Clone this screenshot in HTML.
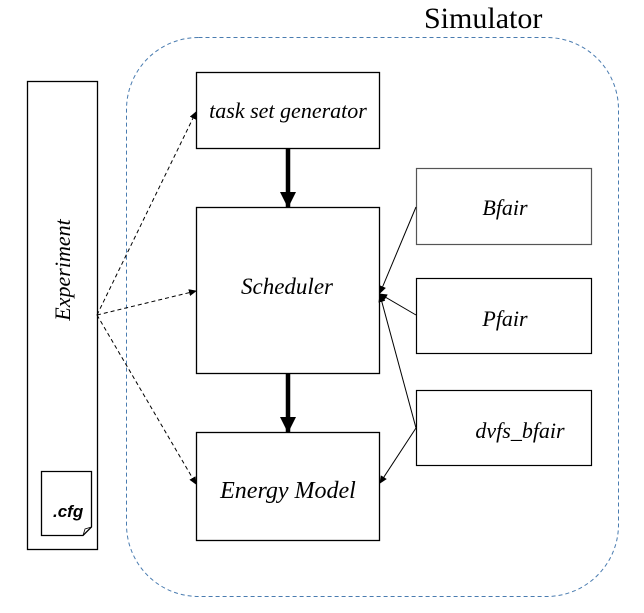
<!DOCTYPE html>
<html><head><style>
html,body{margin:0;padding:0;background:#fff;width:644px;height:613px;overflow:hidden}
svg{display:block}
text{font-family:"Liberation Serif",serif;font-style:italic;fill:#000}
</style></head><body>
<svg width="644" height="613" viewBox="0 0 644 613" xmlns="http://www.w3.org/2000/svg">
<defs>
<marker id="a" markerWidth="8" markerHeight="8" refX="7" refY="4" orient="auto" markerUnits="userSpaceOnUse"><path d="M0,0.5 L8,4 L0,7.5 z" fill="#000"/></marker>
<marker id="b" markerWidth="16" markerHeight="16" refX="15" refY="8" orient="auto" markerUnits="userSpaceOnUse"><path d="M0,0 L16,8 L0,16 z" fill="#000"/></marker>
</defs>
<rect x="126.5" y="37.5" width="492" height="559" rx="72" ry="72" fill="none" stroke="#4a7cb0" stroke-width="1" stroke-dasharray="4,3"/>
<text x="424" y="28" font-size="30" style="font-style:normal">Simulator</text>

<rect x="27.5" y="81.5" width="70" height="468" fill="#fff" stroke="#000" stroke-width="1.3"/>
<text transform="translate(70,270) rotate(-90)" font-size="22" text-anchor="middle">Experiment</text>
<path d="M41.5,471.5 H91.5 V527 L83,535.5 H41.5 Z" fill="#fff" stroke="#000" stroke-width="1.3"/>
<path d="M83,535.5 L85,529 L91.5,527" fill="none" stroke="#000" stroke-width="0.8"/>
<text x="53" y="517" font-size="17" font-weight="bold" style="font-family:'Liberation Sans',sans-serif">.cfg</text>

<rect x="196.5" y="72.5" width="183" height="76" fill="#fff" stroke="#000" stroke-width="1.3"/>
<text x="288" y="118" font-size="22" text-anchor="middle">task set generator</text>
<rect x="196.5" y="207.5" width="183" height="166" fill="#fff" stroke="#000" stroke-width="1.3"/>
<text x="287" y="294" font-size="23" text-anchor="middle">Scheduler</text>
<rect x="196.5" y="432.5" width="183" height="108" fill="#fff" stroke="#000" stroke-width="1.3"/>
<text x="288" y="498" font-size="24" text-anchor="middle">Energy Model</text>

<rect x="416.5" y="168.5" width="175" height="76" fill="#fff" stroke="#555" stroke-width="1.2"/>
<text x="505" y="215" font-size="22" text-anchor="middle">Bfair</text>
<rect x="416.5" y="278.5" width="175" height="75" fill="#fff" stroke="#000" stroke-width="1.2"/>
<text x="505" y="326" font-size="22" text-anchor="middle">Pfair</text>
<rect x="416.5" y="390.5" width="175" height="75" fill="#fff" stroke="#000" stroke-width="1.2"/>
<text x="520" y="438" font-size="22" text-anchor="middle">dvfs_bfair</text>

<line x1="288" y1="148" x2="288" y2="207" stroke="#000" stroke-width="4.5" marker-end="url(#b)"/>
<line x1="288" y1="373" x2="288" y2="432" stroke="#000" stroke-width="4.5" marker-end="url(#b)"/>

<g stroke="#000" stroke-width="1" stroke-dasharray="4,3" fill="none">
<line x1="97" y1="315" x2="196" y2="112" marker-end="url(#a)"/>
<line x1="97" y1="315" x2="196" y2="291" marker-end="url(#a)"/>
<line x1="97" y1="315" x2="196" y2="484" marker-end="url(#a)"/>
</g>
<g stroke="#000" stroke-width="1" fill="none">
<line x1="416" y1="207" x2="380" y2="293" marker-end="url(#a)"/>
<line x1="416" y1="315" x2="380" y2="294" marker-end="url(#a)"/>
<line x1="416" y1="428" x2="380" y2="295" marker-end="url(#a)"/>
<line x1="416" y1="428" x2="380" y2="483" marker-end="url(#a)"/>
</g>
</svg>
</body></html>
